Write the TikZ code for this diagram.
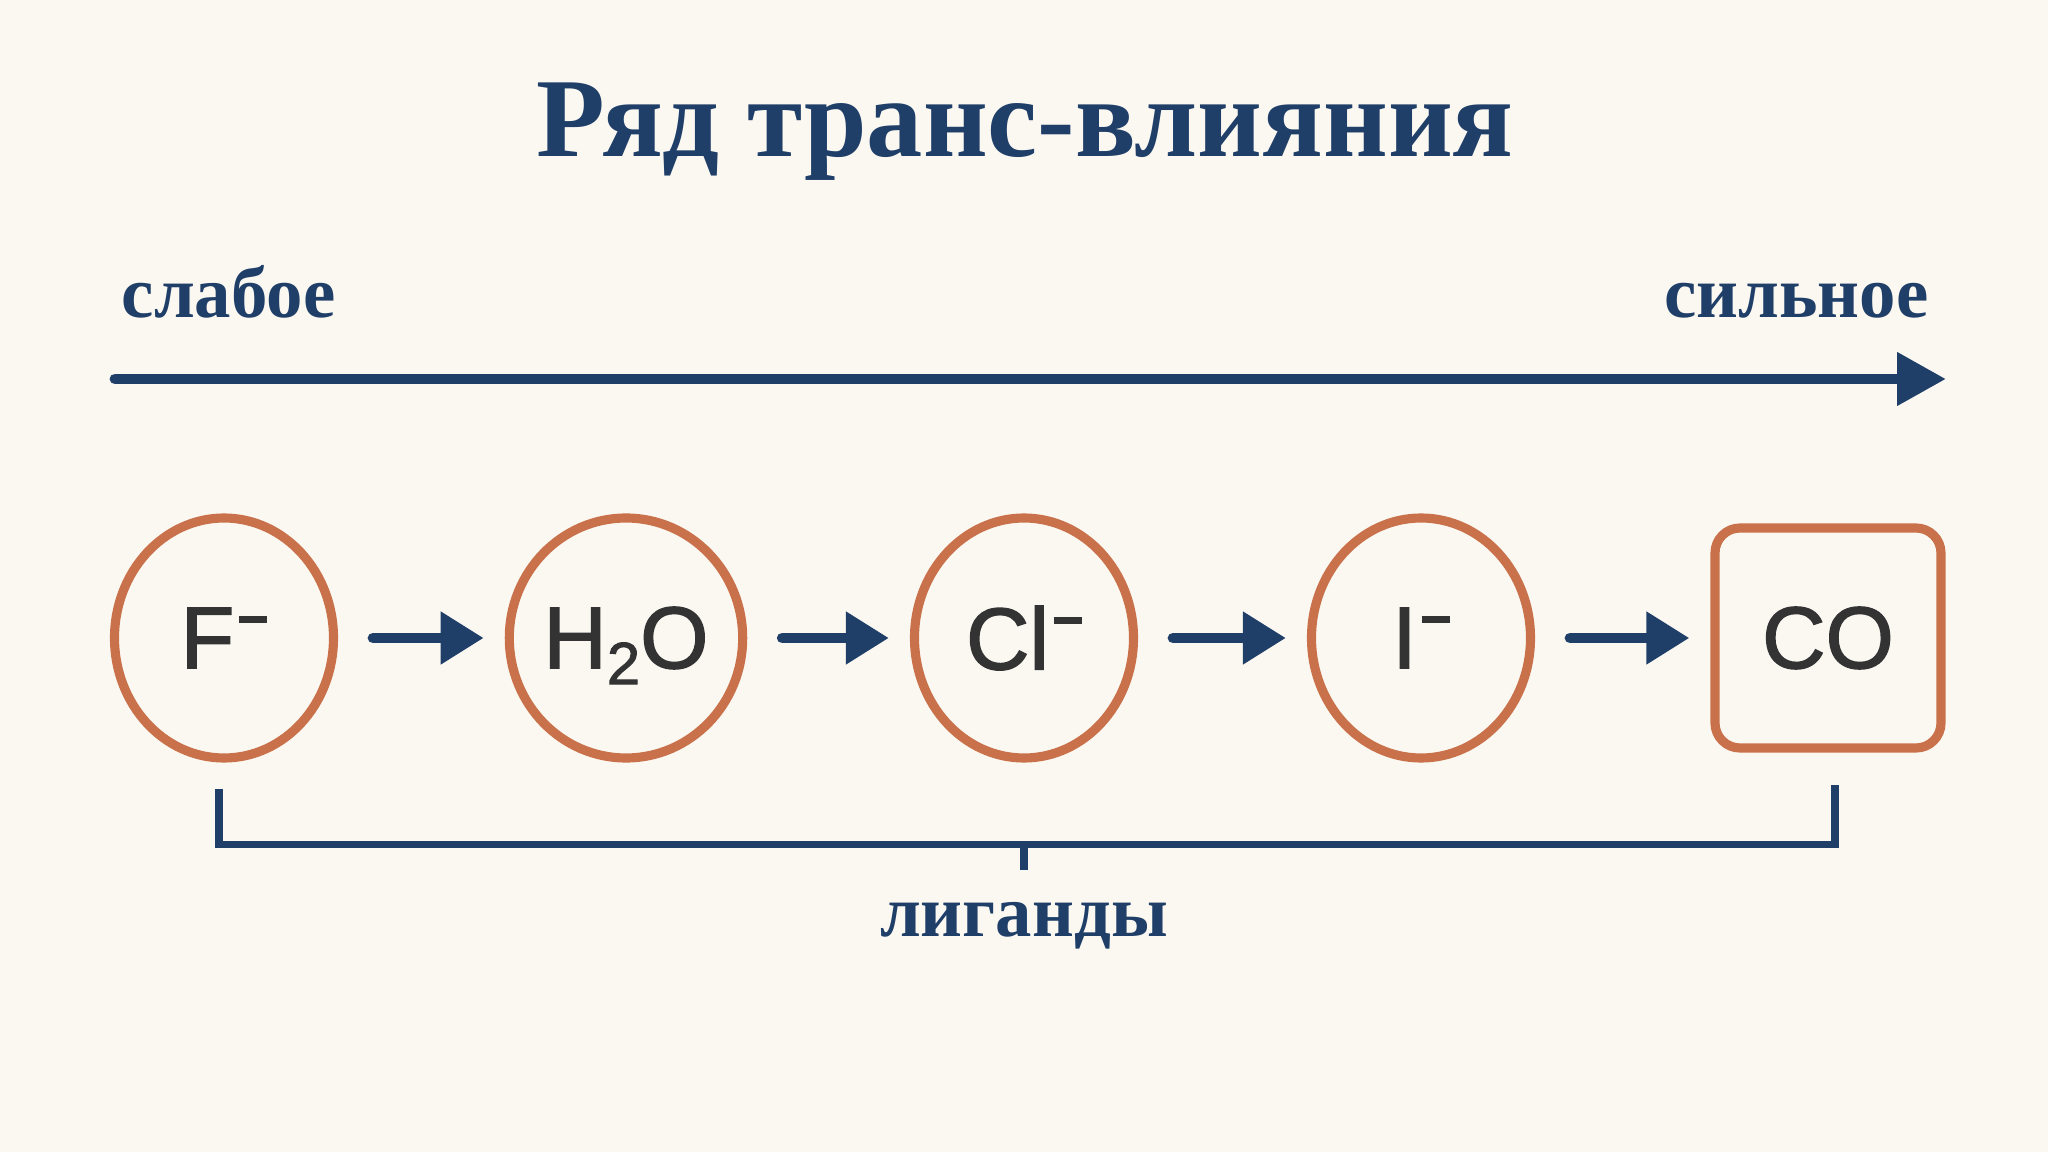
\documentclass[tikz,border=0pt]{standalone}
\usepackage{fontspec}
\setmainfont{Liberation Serif}
\newfontfamily\ligandfont[FakeBold=1.6]{Liberation Sans}
\usetikzlibrary{arrows.meta}
\usetikzlibrary{positioning}
\usetikzlibrary{shapes.geometric}
\definecolor{navy}{HTML}{1F3F68}
\definecolor{rust}{HTML}{C8714A}
\definecolor{paper}{HTML}{FBF8F2}
\definecolor{ink}{HTML}{333333}
\tikzstyle{every node}+=[inner sep=0pt]
\tikzstyle{ligand} = [ellipse, draw=rust, line width=2.6pt, minimum width=2.19cm, minimum height=2.40cm, text=ink, font=\ligandfont\fontsize{25}{25}\selectfont]
\tikzstyle{strongest} = [ligand, rectangle, rounded corners=0.25cm, minimum width=2.26cm, minimum height=2.20cm]
\tikzstyle{line} = [draw=navy, line width=3.1pt, line cap=round, -{Triangle[length=0.43cm, width=0.50cm]}, shorten <=0.35cm, shorten >=0.21cm]
\tikzstyle{scale arrow} = [draw=navy, line width=3.1pt, line cap=round, -{Triangle[length=0.49cm, width=0.51cm]}]
\tikzstyle{caption} = [navy, font=\bfseries\fontsize{20.7}{22}\selectfont]
\tikzstyle{bracket} = [draw=navy, line width=2pt]
\newcommand{\chrg}{\hspace{0.05cm}\rule[0.455cm]{0.28cm}{0.07cm}}

\begin{document}
\begin{tikzpicture}
            \fill [paper] (0,0) rectangle (20.48,-11.52);
            % Title and scale
            \node [navy, font=\bfseries\fontsize{32}{36}\selectfont, anchor=base] (title) at (10.25,-1.57) {Ряд транс-влияния};
            \node [caption, anchor=base west] (weak) at (1.21,-3.18) {слабое};
            \node [caption, anchor=base east] (strong) at (19.29,-3.18) {сильное};
            \coordinate (from) at (1.15,-3.79);
            \coordinate (to) at (19.46,-3.79);
            \path [scale arrow] (from) -- (to);
            % Place nodes
            \node [ligand] (f) at (2.24,-6.38) {F\chrg};
            \node [ligand, right of=f, node distance=4.02cm] (h2o) {H\raisebox{-0.16cm}[0pt][0pt]{\fontsize{17}{17}\selectfont 2}O};
            \node [ligand, right of=h2o, node distance=3.98cm] (cl) {Cl\chrg};
            \node [ligand, right of=cl, node distance=3.97cm] (i) {I\chrg};
            \node [strongest, right of=i, node distance=4.07cm] (co) {CO};
            % Draw edges
            \path [line] (f) -- (h2o);
            \path [line] (h2o) -- (cl);
            \path [line] (cl) -- (i);
            \path [line] (i) -- (co);
            % Bracket
            \draw [bracket] ([xshift=-0.05cm, yshift=-0.26cm]f.south) -- ++(0,-0.56) -| ([xshift=0.07cm, yshift=-0.32cm]co.south);
            \draw [bracket] (cl |- 0,-8.45) -- ++(0,-0.25);
            \node [caption, anchor=base] (ligands) at (cl |- 0,-9.37) {лиганды};
          \end{tikzpicture}
\end{document}
